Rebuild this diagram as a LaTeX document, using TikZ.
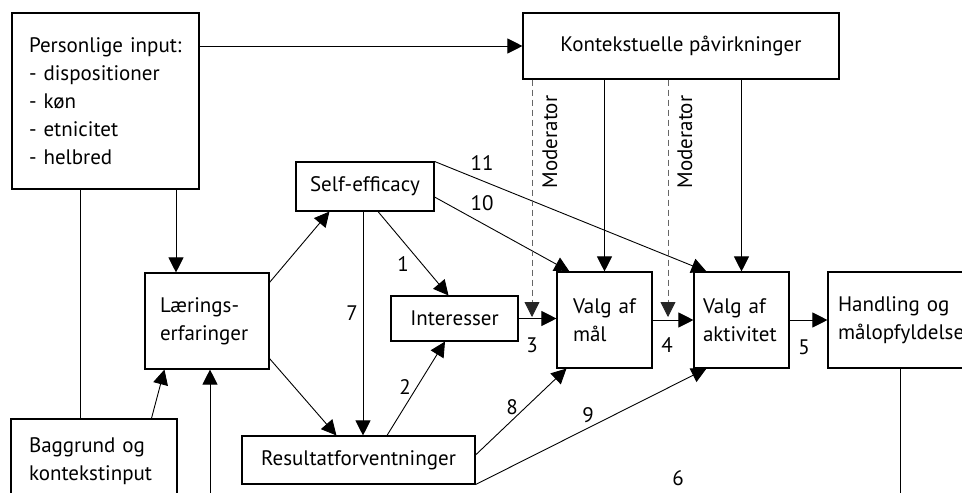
\documentclass[tikz,border=0pt]{standalone}
\usepackage{fontspec}
\setmainfont{PT Sans}
\usetikzlibrary{arrows.meta,calc}
\tikzset{
  box/.style={draw, line width=1.1pt, rectangle, inner ysep=0pt, align=left},
  arr/.style={line width=0.9pt, -{Triangle[length=15pt,width=15pt]}},
  ln/.style={line width=0.9pt},
  dsh/.style={line width=0.8pt, dash pattern=on 6pt off 4pt, gray!80!black, -{Triangle[length=15pt,width=15pt,fill=black!85,color=black!85]}},
  num/.style={inner sep=0pt},
  txt/.style={inner sep=0pt, align=left}
}
\begin{document}
\begin{tikzpicture}[x=1pt,y=-1pt, font=\fontsize{21}{28}\selectfont]
\useasboundingbox (0,0) rectangle (962,493);
\clip (0,0) rectangle (962,493);
\fill[white] (0,0) rectangle (962,493);
% boxes
\node[box, minimum height=176pt, inner xsep=17pt, text width=153pt] (pers) at (105.5,101)
  {Personlige~input:\\- dispositioner\\- køn\\- etnicitet\\- helbred};
\node[box, minimum width=316pt, minimum height=66pt, align=center] (kont) at (681,46) {Kontekstuelle påvirkninger};
\node[box, minimum height=96pt, inner xsep=15pt, text width=94pt] (lae) at (207,321) {Lærings-\\erfaringer};
\node[box, minimum height=84pt, inner xsep=18pt, text width=130pt] (bag) at (94,461) {Baggrund~og\\kontekstinput};
\node[box, minimum width=138pt, minimum height=49pt, align=center] (se) at (365,186.5) {Self-efficacy};
\node[box, minimum width=127pt, minimum height=45pt, align=center] (int) at (454.5,318.5) {Interesser};
\node[box, minimum width=233pt, minimum height=48pt, align=center] (res) at (358.5,460) {Resultatforventninger};
\node[box, minimum height=96pt, inner xsep=16pt, text width=63pt] (mal) at (604.5,320) {Valg~af\\mål};
\node[box, minimum height=96pt, inner xsep=9pt, text width=77pt] (akt) at (741.5,320) {Valg~af\\aktivitet};
\node[box, minimum height=96pt, inner xsep=10pt, text width=140pt] (hand) at (908,320) {Handling~og\\målopfyldelse};
% helper coordinates
\coordinate (x80) at (80,0);
\coordinate (x176) at (176,0);
\coordinate (x210) at (210,510);
\coordinate (x532) at (532,317);
\coordinate (x668) at (668,317);
\coordinate (x900) at (900,510);
% connectors
\draw[arr] (pers.east |- kont.west) -- (kont.west);
\draw[ln] (pers.south -| x80) -- (bag.north -| x80);
\draw[arr] (pers.south -| x176) -- (lae.north -| x176);
\draw[arr] ($(bag.north west)+(141,0)$) -- ($(lae.south west)+(20,0)$);
\draw[arr] (x210) -- (lae.south -| x210);
\draw[arr] ($(lae.north east)+(0,10)$) -- ($(se.south west)+(34,0)$);
\draw[arr] ($(lae.south east)+(0,-11)$) -- ($(res.north west)+(95,0)$);
\draw[arr] ($(se.south)+(13,0)$) -- ($(int.north)+(-6,0)$);
\draw[arr] ($(se.south)+(-2,0)$) -- ($(res.north)+(4.5,0)$);
\draw[arr] ($(res.north)+(28.5,0)$) -- ($(int.south)+(-9.5,0)$);
\draw[arr] (se.north east) -- ($(akt.north west)+(13,0)$);
\draw[arr] ($(se.east)+(0,10.5)$) -- ($(mal.north west)+(13,0)$);
\draw[arr] (int.east) -- (mal.west |- int.east);
\draw[arr] ($(res.east)+(0,-5)$) -- ($(mal.south west)+(10,0)$);
\draw[arr] (res.south east) -- ($(akt.south west)+(13,0)$);
\draw[arr] (mal.east) -- (akt.west);
\draw[arr] (akt.east) -- (hand.west);
\draw[arr] (kont.south -| mal.north) -- (mal.north);
\draw[arr] (kont.south -| akt.north) -- (akt.north);
\draw[dsh] (kont.south -| x532) -- (x532);
\draw[dsh] (kont.south -| x668) -- (x668);
\draw[ln] (hand.south -| x900) -- (x900);
% labels
\node[txt, rotate=90] (m1) at (550,142) {Moderator};
\node[txt, rotate=90] (m2) at (685,142) {Moderator};
\node[num] (n11) at (482,163) {11};
\node[num] (n10) at (482,203) {10};
\node[num] (n1) at (403,264) {1};
\node[num] (n7) at (352,313) {7};
\node[num] (n2) at (405,387) {2};
\node[num] (n3) at (532,345) {3};
\node[num] (n4) at (667,345) {4};
\node[num] (n5) at (804,347) {5};
\node[num] (n8) at (512,407) {8};
\node[num] (n9) at (588,415) {9};
\node[num] (n6) at (678,478) {6};
\end{tikzpicture}
\end{document}
